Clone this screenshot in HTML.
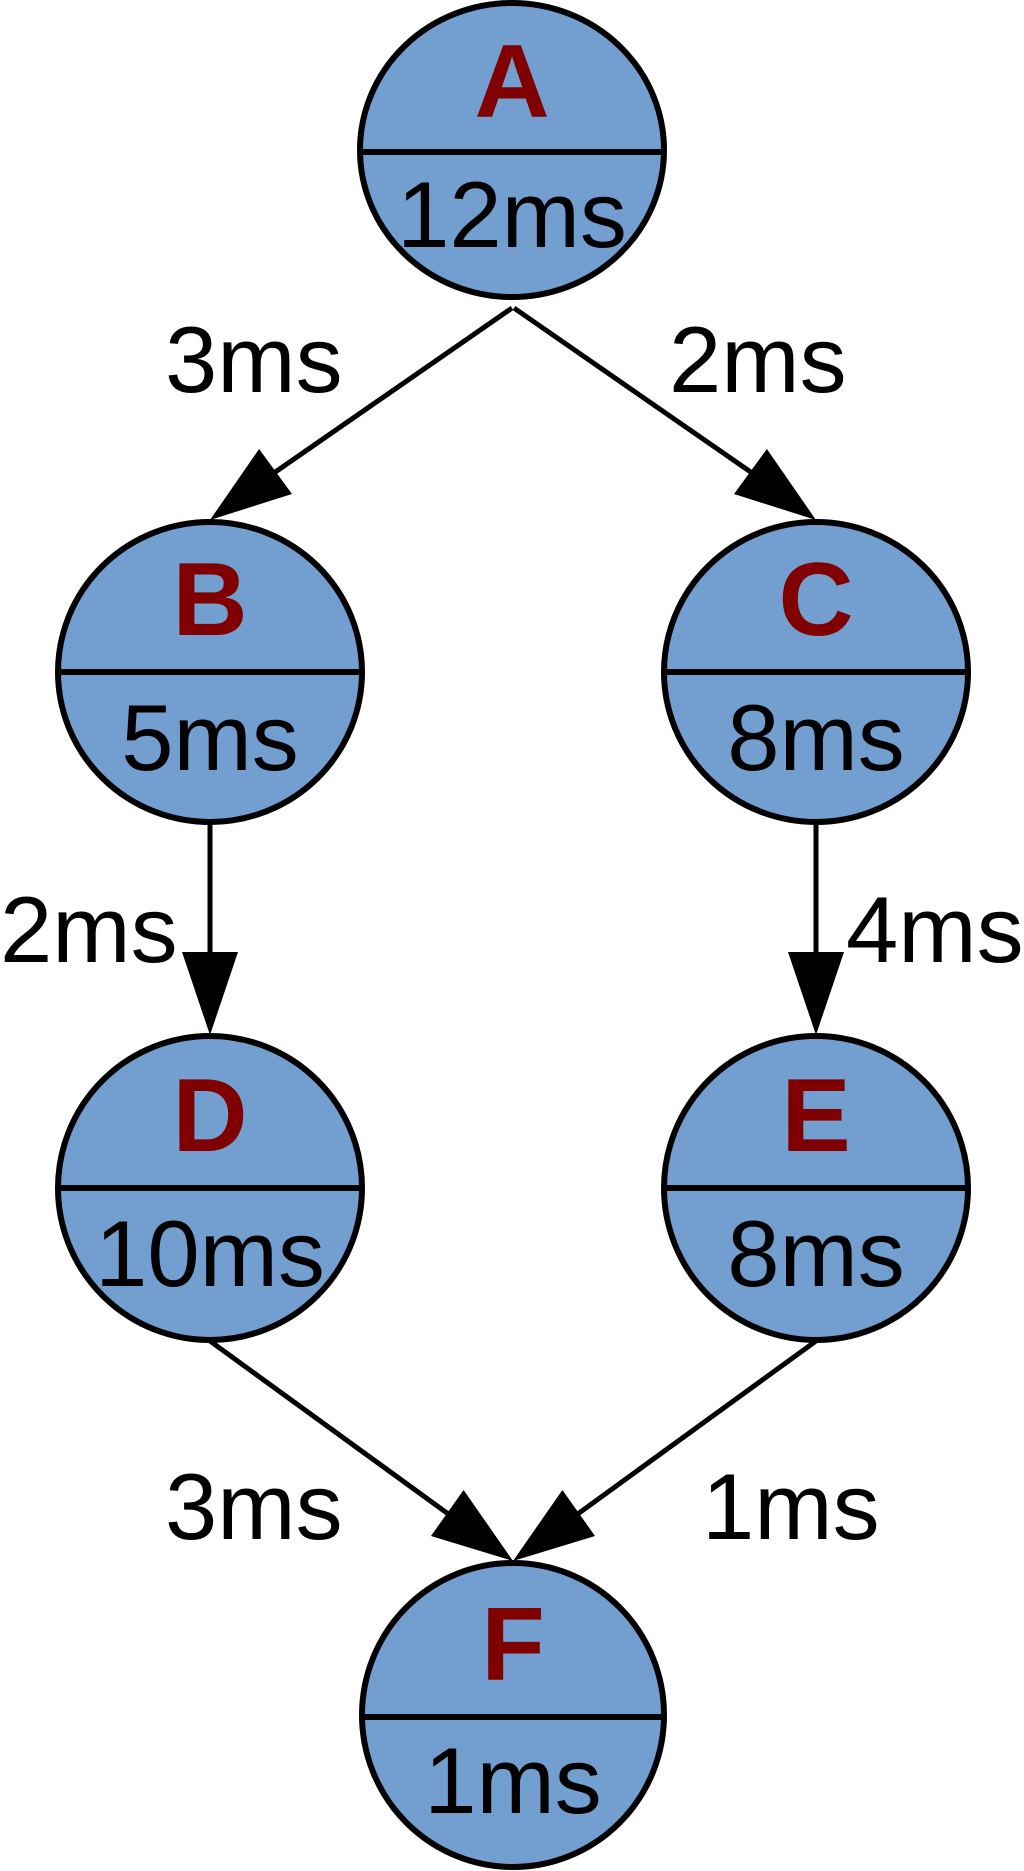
<!DOCTYPE html>
<html><head><meta charset="utf-8"><style>html,body{margin:0;padding:0;background:#fff}svg{display:block}</style></head>
<body>
<svg width="1024" height="1871" viewBox="0 0 1024 1871" xmlns="http://www.w3.org/2000/svg" font-family="Liberation Sans, Arial, sans-serif">
<g stroke="#000" stroke-width="6" fill="#729fcf">
<ellipse cx="512" cy="150" rx="152" ry="147"/>
<ellipse cx="210" cy="672" rx="152" ry="150"/>
<ellipse cx="816" cy="672" rx="152" ry="150"/>
<ellipse cx="210" cy="1188" rx="152" ry="152"/>
<ellipse cx="816" cy="1188" rx="152" ry="152"/>
<ellipse cx="513" cy="1715" rx="151" ry="152"/>
<line x1="360" y1="152" x2="664" y2="152"/>
<line x1="58" y1="672" x2="362" y2="672"/>
<line x1="664" y1="672" x2="968" y2="672"/>
<line x1="58" y1="1188" x2="362" y2="1188"/>
<line x1="664" y1="1188" x2="968" y2="1188"/>
<line x1="362" y1="1717" x2="664" y2="1717"/>
</g>
<g stroke="#000" stroke-width="5" fill="none">
<line x1="512" y1="308" x2="274.5" y2="472.6"/>
<line x1="514" y1="308" x2="751.5" y2="472.6"/>
<line x1="210" y1="824" x2="210" y2="955"/>
<line x1="816" y1="824" x2="816" y2="955"/>
<line x1="210" y1="1341" x2="448.3" y2="1514"/>
<line x1="816" y1="1341" x2="577.7" y2="1514"/>
</g>
<g fill="#000">
<polygon points="210,520 292,494 259.1,449"/>
<polygon points="816,520 734,494 766.9,449"/>
<polygon points="210,1035 182,952 238,952"/>
<polygon points="816,1035 788,952 844,952"/>
<polygon points="513,1561 431,1536 463.6,1490"/>
<polygon points="513,1561 595,1536 562.4,1490"/>
</g>
<g fill="#800000" font-weight="bold" font-size="104" text-anchor="middle">
<text x="512" y="117">A</text>
<text x="210" y="635">B</text>
<text x="816" y="635">C</text>
<text x="210" y="1151">D</text>
<text x="816" y="1151">E</text>
<text x="513" y="1680">F</text>
</g>
<g fill="#000" font-size="94" text-anchor="middle">
<text x="512" y="247">12ms</text>
<text x="210" y="770">5ms</text>
<text x="816" y="770">8ms</text>
<text x="210" y="1286">10ms</text>
<text x="816" y="1286">8ms</text>
<text x="513" y="1813">1ms</text>
</g>
<g fill="#000" font-size="94">
<text x="165" y="392">3ms</text>
<text x="669" y="392">2ms</text>
<text x="0" y="962">2ms</text>
<text x="846" y="962">4ms</text>
<text x="165" y="1539">3ms</text>
<text x="702" y="1539">1ms</text>
</g>
</svg>
</body></html>
